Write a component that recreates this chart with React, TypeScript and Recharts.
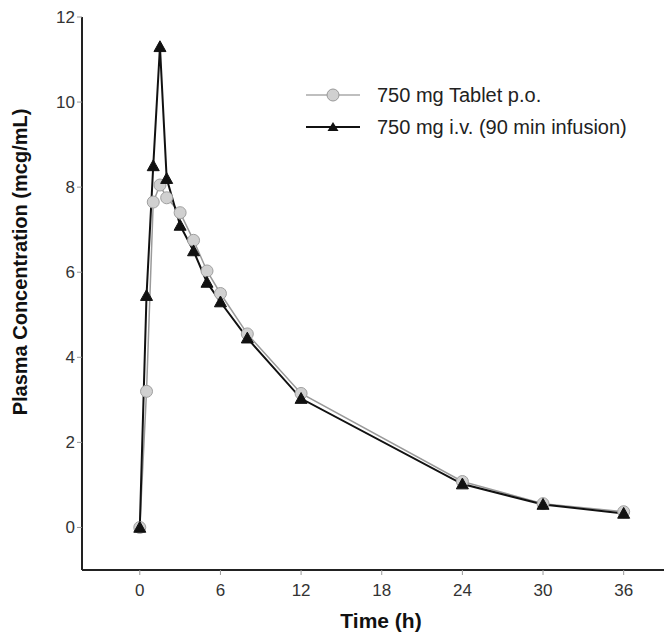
import React from 'react';
import { LineChart, Line, XAxis, YAxis } from 'recharts';

const times = [0, 0.5, 1, 1.5, 2, 3, 4, 5, 6, 8, 12, 24, 30, 36];
const tabletPo = [0, 3.2, 7.65, 8.05, 7.75, 7.4, 6.75, 6.03, 5.5, 4.55, 3.15, 1.08, 0.56, 0.37];
const ivInfusion = [0, 5.45, 8.5, 11.3, 8.2, 7.1, 6.5, 5.76, 5.3, 4.45, 3.03, 1.02, 0.54, 0.33];
const xTicks = [0, 6, 12, 18, 24, 30, 36];
const yTicks = [0, 2, 4, 6, 8, 10, 12];

const TABLET_NAME = '750 mg Tablet p.o.';
const IV_NAME = '750 mg i.v. (90 min infusion)';

const rows = times.map((t, i) => ({ t, tablet: tabletPo[i], iv: ivInfusion[i] }));

const FONT = '"Liberation Sans", Arial, Helvetica, sans-serif';

const Triangle = (props: any) => {
  const { cx, cy, key } = props;
  if (cx == null || cy == null) return null;
  const s = 6;
  return <path key={key} d={`M${cx},${cy - s} L${cx + s},${cy + s * 0.8} L${cx - s},${cy + s * 0.8} Z`} fill="#111" stroke="#111" strokeWidth={1} />;
};

const yLabel = () => (
  <text x={20} y={262} transform="rotate(-90 20 262)" textAnchor="middle" dominantBaseline="central" fontFamily={FONT} fontWeight="bold" fontSize={20} fill="#111">
    Plasma Concentration (mcg/mL)
  </text>
);

const xLabel = () => (
  <text x={381} y={620} textAnchor="middle" dominantBaseline="central" fontFamily={FONT} fontWeight="bold" fontSize={21} fill="#111">
    Time (h)
  </text>
);

function ChartLegend() {
  return (
    <div style={{ position: 'absolute', left: 304, top: 79, fontFamily: FONT, fontSize: 20, color: '#222', whiteSpace: 'nowrap' }}>
      <div style={{ display: 'flex', alignItems: 'center', height: 32 }}>
        <svg width={56} height={20} style={{ marginRight: 17 }}>
          <line x1={2} y1={10} x2={56} y2={10} stroke="#aaa" strokeWidth={1.5} />
          <circle cx={29} cy={10} r={6} fill="#d0d0d0" stroke="#999" strokeWidth={1} />
        </svg>
        <span>{TABLET_NAME}</span>
      </div>
      <div style={{ display: 'flex', alignItems: 'center', height: 32 }}>
        <svg width={56} height={20} style={{ marginRight: 17 }}>
          <line x1={2} y1={10} x2={56} y2={10} stroke="#111" strokeWidth={2} />
          <path d="M29,5 L34.5,14 L23.5,14 Z" fill="#111" />
        </svg>
        <span>{IV_NAME}</span>
      </div>
    </div>
  );
}

export default function App() {
  return (
    <div style={{ position: 'absolute', left: 0, top: 0, width: 664, height: 633, background: '#fff' }}>
      <LineChart width={664} height={633} data={rows} margin={{ top: 17, right: 0, bottom: 33, left: 0 }}>
        <XAxis
          dataKey="t"
          type="number"
          domain={[-4.3, 39]}
          ticks={xTicks}
          height={30}
          allowDataOverflow
          axisLine={{ stroke: '#222', strokeWidth: 2 }}
          tickLine={{ stroke: '#999' }}
          tickSize={5}
          tickMargin={9}
          tick={{ fill: '#333', fontSize: 17, fontFamily: FONT }}
          label={xLabel}
        />
        <YAxis
          type="number"
          domain={[-1, 12]}
          ticks={yTicks}
          width={82}
          allowDataOverflow
          axisLine={{ stroke: '#222', strokeWidth: 2 }}
          tickLine={{ stroke: '#999' }}
          tickSize={5}
          tick={{ fill: '#333', fontSize: 17, fontFamily: FONT }}
          label={yLabel}
        />
        <Line
          dataKey="tablet"
          name={TABLET_NAME}
          stroke="#9a9a9a"
          strokeWidth={1.5}
          dot={{ r: 6, fill: '#d0d0d0', stroke: '#a0a0a0', strokeWidth: 1 }}
          isAnimationActive={false}
        />
        <Line
          dataKey="iv"
          name={IV_NAME}
          stroke="#111"
          strokeWidth={2}
          dot={Triangle}
          isAnimationActive={false}
        />
      </LineChart>
      <ChartLegend />
    </div>
  );
}
